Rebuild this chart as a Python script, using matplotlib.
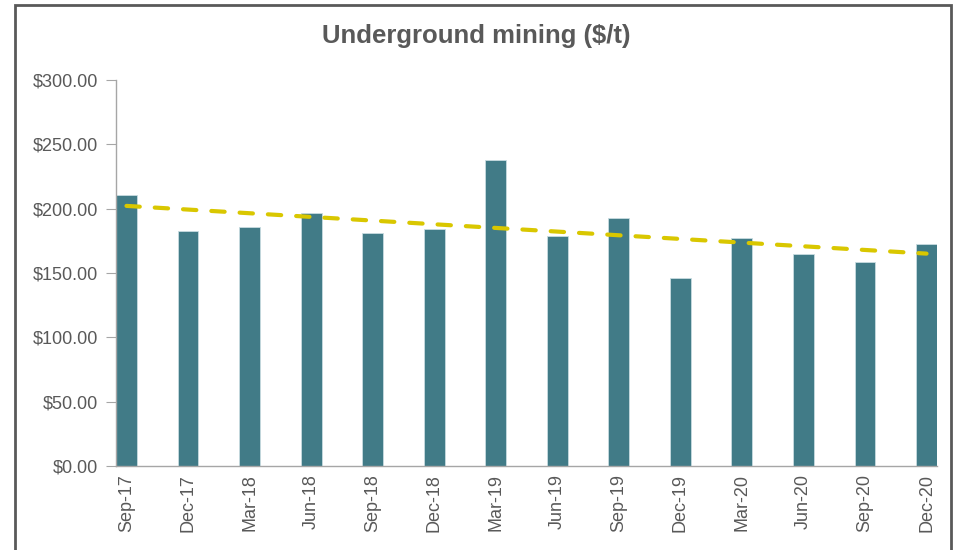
import numpy as np
import matplotlib
matplotlib.use("Agg")
import matplotlib.pyplot as plt
from matplotlib.patches import Rectangle
from matplotlib.ticker import FuncFormatter

# quarterly underground mining cost, $/t
quarters = ["Sep-17", "Dec-17", "Mar-18", "Jun-18", "Sep-18", "Dec-18", "Mar-19",
            "Jun-19", "Sep-19", "Dec-19", "Mar-20", "Jun-20", "Sep-20", "Dec-20"]
cost = [211.0, 183.0, 185.5, 196.5, 181.0, 184.5, 238.0,
        178.5, 193.0, 146.5, 177.5, 164.5, 158.5, 172.5]
y_ticks = [0, 50, 100, 150, 200, 250, 300]

bar_color = "#417b87"
trend_color = "#d9c700"
text_color = "#595959"

plt.rcParams['font.family'] = ['Liberation Sans', 'DejaVu Sans']

fig = plt.figure(figsize=(9.57, 5.5), dpi=100)
ax = fig.add_axes([116 / 957, 84 / 550, 821 / 957, 386 / 550])

x = np.arange(len(quarters))
ax.bar(x, cost, width=0.34, color=bar_color, edgecolor="#c8dce0", linewidth=0.6, zorder=2)

# linear trendline (like Excel's)
k, b = np.polyfit(x, cost, 1)
ax.plot(x, k * x + b, color=trend_color, linewidth=3.0, dashes=(3.2, 3.6),
        dash_capstyle="round", solid_capstyle="round", zorder=3)

ax.set_xlim(-0.17, len(quarters) - 1 + 0.17)
ax.set_ylim(0, 300)
ax.set_yticks(y_ticks)
ax.yaxis.set_major_formatter(FuncFormatter(lambda v, p: "${:,.2f}".format(v)))
ax.set_xticks(x)
ax.set_xticklabels(quarters, rotation=90)

for s in ["top", "right"]:
    ax.spines[s].set_visible(False)
for s in ["left", "bottom"]:
    ax.spines[s].set_color("#a6a6a6")
    ax.spines[s].set_linewidth(1.0)

ax.tick_params(axis="y", length=7, color="#a6a6a6", labelsize=13, labelcolor=text_color, pad=6)
ax.tick_params(axis="x", length=0, labelsize=13, labelcolor=text_color, pad=6)

fig.text(476 / 957, 1 - 36 / 550, "Underground mining ($/t)", ha="center", va="center",
         fontsize=18.5, fontweight="bold", color=text_color)

# outer chart frame
fig.patches.append(Rectangle((15 / 957, -0.05), 936 / 957, 1.05 - 5 / 550,
                             transform=fig.transFigure, fill=False,
                             edgecolor="#595959", linewidth=2, clip_on=False))

fig.savefig("out.png", dpi=100)
